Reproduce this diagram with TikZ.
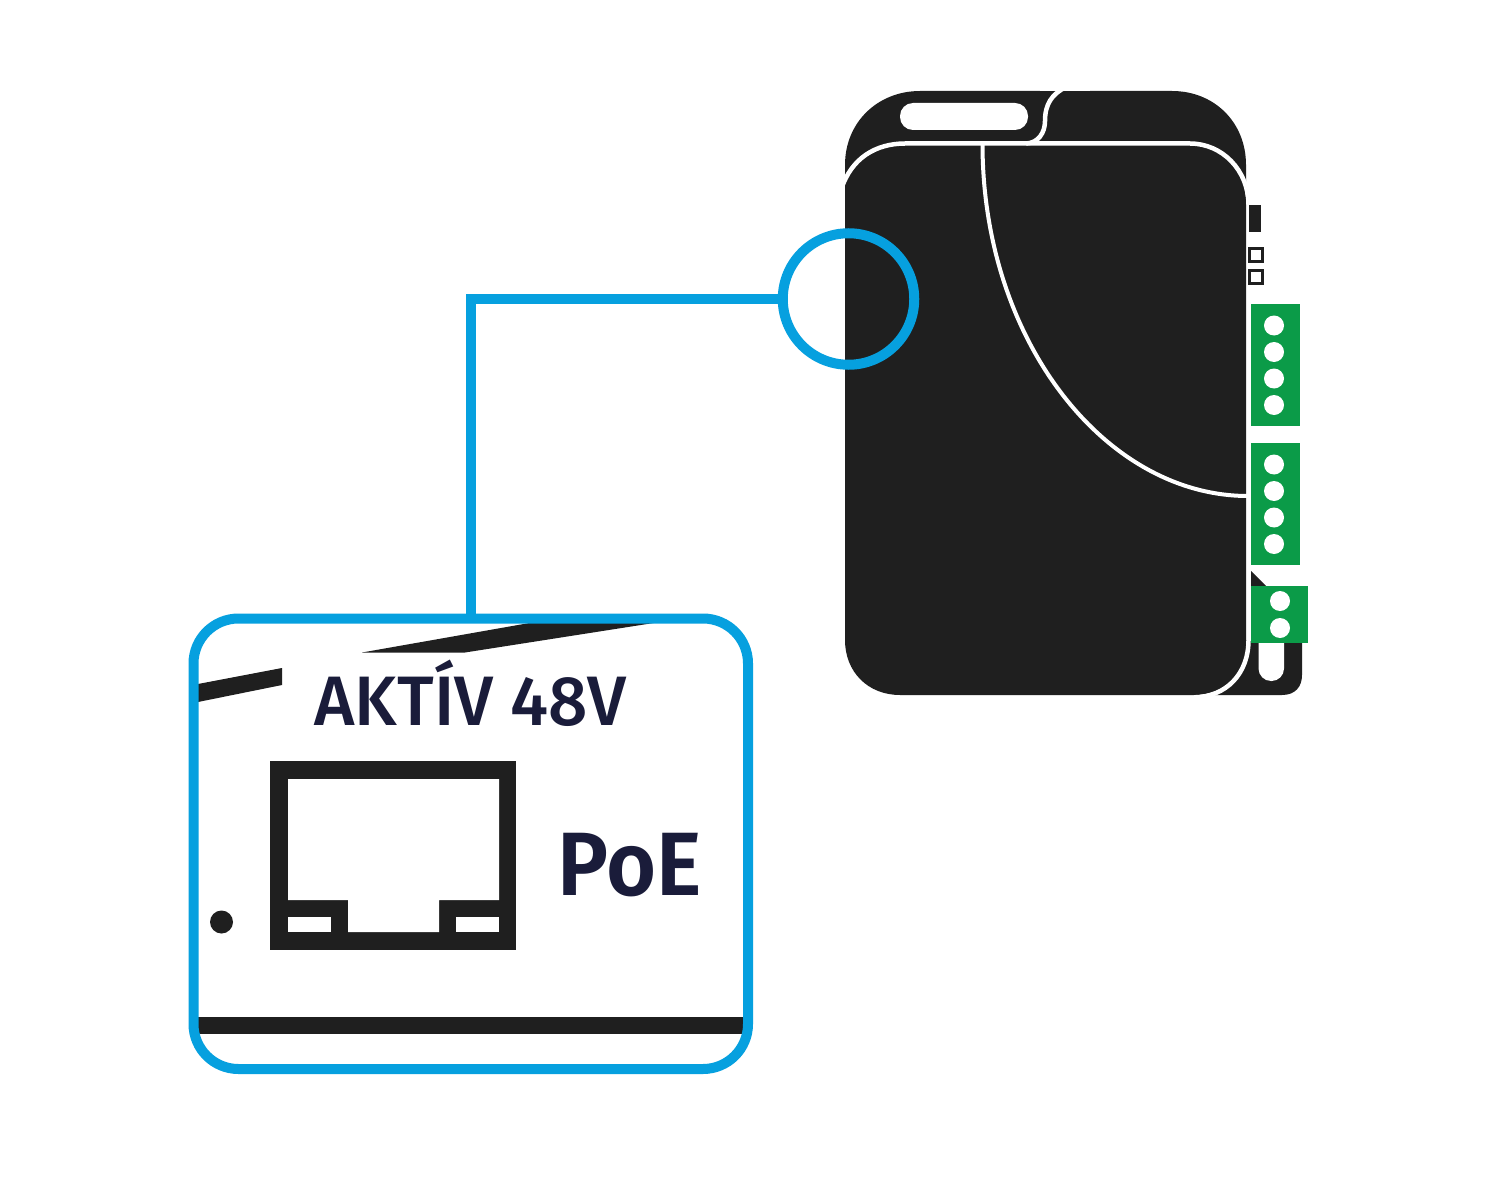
\documentclass[tikz,border=0pt]{standalone}
\usepackage{fontspec}
\setmainfont{Fira Sans}
\newfontfamily\akfont[FakeStretch=0.99]{Fira Sans Medium}
\newfontfamily\poefont[FakeStretch=0.955]{Fira Sans SemiBold}
\definecolor{ink}{HTML}{1F1F1F}
\definecolor{txt}{HTML}{1A1C3A}
\definecolor{cyanb}{HTML}{06A0DF}
\definecolor{grn}{HTML}{0B9B48}
\tikzset{x=1pt,y=-1pt,
 whiteline/.style={draw=white,line width=4.5pt},
 blueline/.style={draw=cyanb,line width=10pt},
 pin/.style={circle,fill=white,draw=none,minimum size=20pt,inner sep=0pt},
 label/.style={text=txt,inner sep=0pt,anchor=base}}
\begin{document}
\begin{tikzpicture}
\useasboundingbox (0,0) rectangle (1496,1190);
\fill[white] (0,0) rectangle (1496,1190);
% back lid
\fill[ink] (845,190) -- (845,165) .. controls (845,122) and (878,91) .. (920,91) -- (1172,91) .. controls (1214,91) and (1246,122) .. (1246,165) -- (1246,190) -- cycle;
% lower right tail
\fill[ink] (1215,695) -- (1282,695) .. controls (1295,695) and (1302,687) .. (1302,675) -- (1302,640) -- (1240,640) -- cycle;
\fill[ink] (1251,571) -- (1266,586) -- (1251,586) -- cycle;
% main body
\fill[ink] (845,185) .. controls (853,156) and (876,144) .. (905,144) -- (1190,144) .. controls (1222,144) and (1246,170) .. (1246.3,205) -- (1246.3,640) .. controls (1246.3,672) and (1226,695) .. (1194,695) -- (900,695) .. controls (868,695) and (845,672) .. (845,640) -- cycle;
% white seam around body
\draw[whiteline] (841,190) .. controls (851,158) and (876,143.5) .. (905,143.5) -- (1190,143.5) .. controls (1222,143.5) and (1248.5,170) .. (1248.5,205) -- (1248.5,640) .. controls (1248.5,674) and (1226,697) .. (1194,697.3);
% inner curve
\draw[white,line width=4pt] (982.5,144) .. controls (982.5,340) and (1105,496) .. (1248,496);
% top notch
\draw[whiteline] (1026,143.5) .. controls (1038,143) and (1045,133) .. (1045,121) .. controls (1045,104) and (1052,94) .. (1066,87);
\fill[white] (1040,80) rectangle (1090,91);
% slot
\fill[white,rounded corners=13pt] (900,103) rectangle (1028,130);
% side indicators
\fill[ink] (1249,205) rectangle (1261,232);
\draw[ink,line width=3pt] (1249.5,248.5) rectangle (1262.5,262);
\draw[ink,line width=3pt] (1249.5,270.5) rectangle (1262.5,284);
% tail slot
\fill[white,rounded corners=12.5pt] (1258.5,630) rectangle (1284,681);
% connectors
\fill[grn] (1251,304) rectangle (1300,426);
\fill[grn] (1251,443) rectangle (1300,565);
\fill[grn] (1251,586) rectangle (1308,643);
\foreach \n/\y in {a/325.5,b/352,c/378.5,d/405,e/464.5,f/491,g/517.5,h/544}
  \node[pin] (pin\n) at (1274,\y) {};
\foreach \n/\y in {i/601,j/628}
  \node[pin] (pin\n) at (1280,\y) {};
% detail frame interior
\fill[ink] (198,684) -- (282,668) -- (282,685) -- (198,702) -- cycle;
\fill[ink] (362,652.5) -- (535,622) -- (660,622) -- (465,652.5) -- cycle;
\fill[ink] (196,1017) rectangle (746,1034);
% RJ45
\fill[ink] (270,761) rectangle (516,950);
\fill[white] (288,779) -- (499,779) -- (499,900) -- (439,900) -- (439,932) -- (348,932) -- (348,900) -- (288,900) -- cycle;
\fill[white] (288,917) rectangle (331,932);
\fill[white] (456,917) rectangle (499,932);
\fill[ink] (221.5,922) circle (11.5);
% blue
\draw[blueline,rounded corners=45pt] (471,618.5) -- (193.5,618.5) -- (193.5,1069) -- (748,1069) -- (748,618.5) -- cycle;
\node[draw=cyanb,line width=10pt,circle,minimum size=131.5pt,inner sep=0pt] (ring) at (848.5,299) {};
\coordinate (drop) at (471,618.5);
\draw[blueline] (ring.west) -- (471,299) -- (drop);
\node[label,font=\akfont\fontsize{70}{70}\selectfont] (t1) at (470.5,725.5) {AKTÍV 48V};
\node[label,font=\poefont\fontsize{90}{90}\selectfont] (t2) at (629.5,895.5) {PoE};
\end{tikzpicture}
\end{document}
